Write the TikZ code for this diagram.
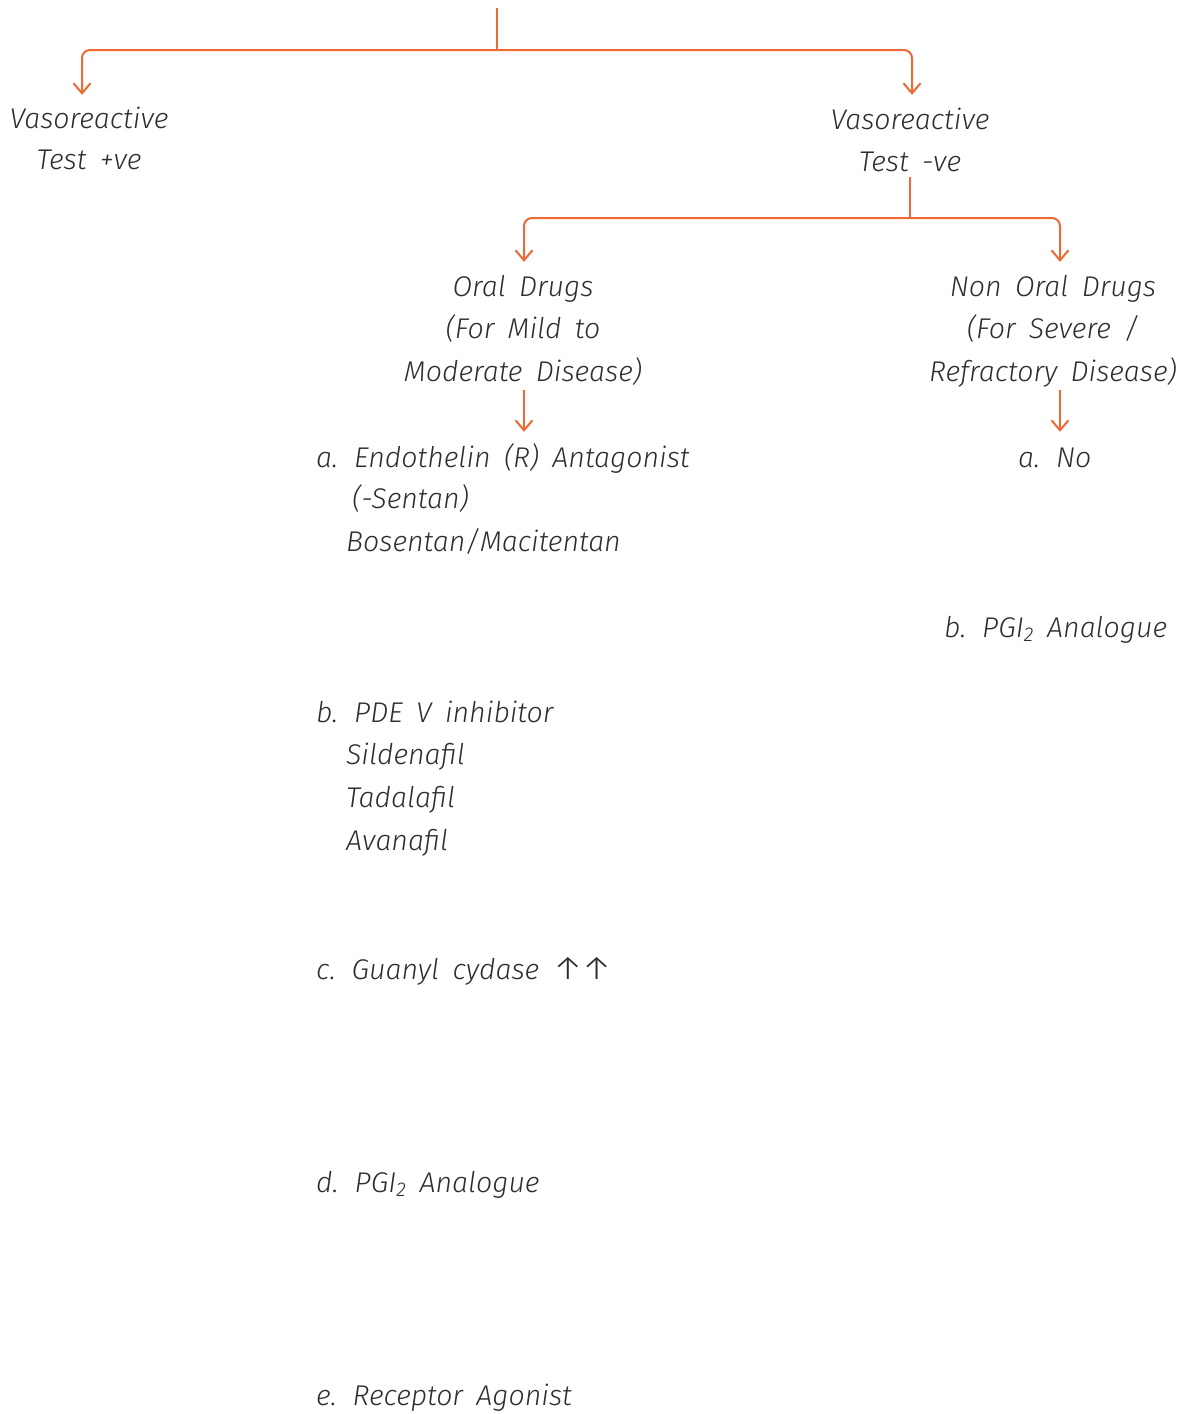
\documentclass[tikz,border=0pt]{standalone}
\usepackage{fontspec}
\setmainfont{Fira Sans}[ItalicFont={Fira Sans Light Italic},WordSpace=1.7]
\newfontfamily\arrfont{Fira Sans Light}
\usetikzlibrary{arrows.meta,calc}
\definecolor{lineor}{RGB}{238,106,52}
\definecolor{inkc}{RGB}{45,45,45}
\begin{document}
\begin{tikzpicture}[x=1pt,y=-1pt,
  txt/.style={inner sep=0pt,text height=20pt,text depth=6pt,text=inkc,font=\fontsize{28.5}{34}\selectfont\itshape},
  ctxt/.style={txt,anchor=base},
  ltxt/.style={txt,anchor=base west},
  conn/.style={draw=lineor,line width=2pt,rounded corners=8pt},
  arrowline/.style={conn,-{Straight Barb[length=10pt,width=17pt,line width=2pt]}}]
\useasboundingbox[fill=white] (0,0) rectangle (1188,1414);
% top level
\coordinate (root) at (497,8);
\coordinate (j1) at (497,50);
\node[ctxt] (vpos1) at (89,128) {Vasoreactive};
\node[ctxt] (vpos2) at (89,169) {Test +ve};
\node[ctxt] (vneg1) at (910,129) {Vasoreactive};
\node[ctxt] (vneg2) at (910,171) {Test -ve};
\draw[conn] (root) -- (j1);
\draw[arrowline] (j1) -| ($(vpos1.north)+(-7,-13)$);
\draw[arrowline] (j1) -| ($(vneg1.north)+(2,-14)$);
% second level
\coordinate (j2) at (910,218);
\node[ctxt] (oral1) at (523,296) {Oral Drugs};
\node[ctxt] (oral2) at (523,338) {(For Mild to};
\node[ctxt] (oral3) at (523,381) {Moderate Disease)};
\node[ctxt] (non1) at (1053,296) {Non Oral Drugs};
\node[ctxt] (non2) at (1053,338) {(For Severe /};
\node[ctxt] (non3) at (1053,381) {Refractory Disease)};
\draw[conn] (vneg2.south) -- (j2);
\draw[arrowline] (j2) -| ($(oral1.north)+(1,-14)$);
\draw[arrowline] (j2) -| ($(non1.north)+(7,-14)$);
% oral list
\node[ltxt] (ea1) at (316,467) {a. Endothelin (R) Antagonist};
\node[ltxt] (ea2) at (352,508) {(-Sentan)};
\node[ltxt] (ea3) at (346,551) {Bosentan/Macitentan};
\node[ltxt] (pb1) at (316,722) {b. PDE V inhibitor};
\node[ltxt] (pb2) at (346,764) {Sildenafil};
\node[ltxt] (pb3) at (346,807) {Tadalafil};
\node[ltxt] (pb4) at (346,850) {Avanafil};
\node[ltxt] (gc) at (316,979) {c. Guanyl cydase {\arrfont\upshape\fontsize{34}{34}\selectfont ↑\kern-2pt↑}};
\node[ltxt] (pd) at (316,1192) {d. PGI\textsubscript{2} Analogue};
\node[ltxt] (re) at (316,1405) {e. Receptor Agonist};
% non oral list
\node[ltxt] (na) at (1018,467) {a. No};
\node[ltxt] (nb) at (944,637) {b. PGI\textsubscript{2} Analogue};
\draw[arrowline] ($(oral3.south)+(1,3)$) -- ($(oral3.south |- ea1.north)+(1,-15)$);
\draw[arrowline] ($(non3.south)+(7,3)$) -- ($(non3.south |- na.north)+(7,-15)$);
\end{tikzpicture}
\end{document}
